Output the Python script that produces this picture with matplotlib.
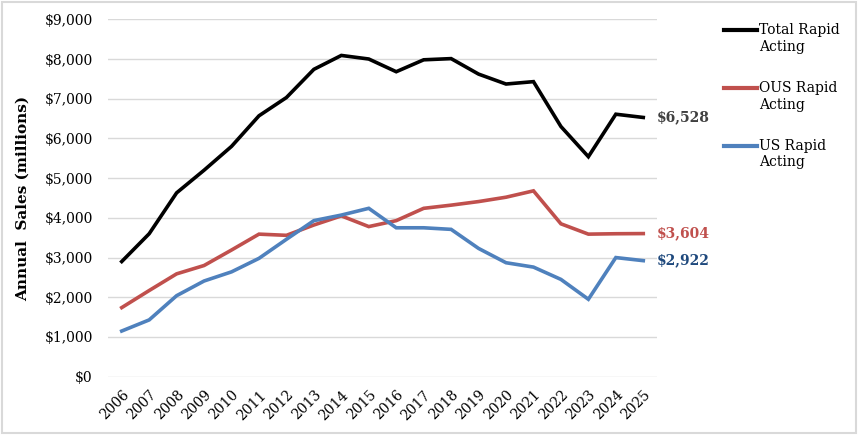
import matplotlib
matplotlib.use("Agg")
import matplotlib.pyplot as plt
import matplotlib.ticker as mticker
from matplotlib.patches import Rectangle
import numpy as np

years = list(range(2006, 2026))
total = [2900, 3600, 4630, 5200, 5800, 6570, 7030, 7740, 8090, 8000,
         7680, 7980, 8010, 7620, 7370, 7430, 6300, 5540, 6610, 6528]
ous = [1740, 2170, 2590, 2800, 3190, 3590, 3560, 3820, 4050, 3780,
       3930, 4240, 4320, 4410, 4520, 4680, 3850, 3590, 3600, 3604]
us = [1150, 1430, 2040, 2410, 2640, 2980, 3460, 3930, 4070, 4240,
      3750, 3750, 3710, 3230, 2870, 2760, 2450, 1950, 3000, 2922]
series_names = ["Total Rapid\nActing", "OUS Rapid\nActing", "US Rapid\nActing"]
end_labels = ["$6,528", "$3,604", "$2,922"]
y_ticks = [0, 1000, 2000, 3000, 4000, 5000, 6000, 7000, 8000, 9000]

colors = ["#000000", "#C0504D", "#4F81BD"]
label_colors = ["#404040", "#C0504D", "#1F497D"]

plt.rcParams["font.family"] = ["DejaVu Serif"]

fig = plt.figure(figsize=(8.6, 4.4), dpi=100)
ax = fig.add_axes([108/860, 1 - 376.7/440, (657-108)/860, (376.7-19.3)/440])

x = np.arange(len(years))
lines = []
for vals, c, name in zip([total, ous, us], colors, series_names):
    ln, = ax.plot(x, vals, color=c, lw=2.6, label=name, solid_joinstyle="miter")
    lines.append(ln)

for vals, lab, c in zip([total, ous, us], end_labels, label_colors):
    ax.annotate(lab, xy=(x[-1], vals[-1]), xytext=(10, 0), textcoords="offset points",
                ha="left", va="center", fontsize=10, fontweight="bold", color=c,
                annotation_clip=False)

ax.set_xlim(-0.5, len(years) - 0.5)
ax.set_ylim(0, 9000)
ax.set_yticks(y_ticks)
ax.yaxis.set_major_formatter(mticker.FuncFormatter(lambda v, p: f"${v:,.0f}"))
ax.set_xticks(x)
ax.set_xticklabels([str(y) for y in years], rotation=45, ha="right", va="top",
                   rotation_mode="anchor")
ax.tick_params(axis="both", length=0, labelsize=10)
ax.tick_params(axis="y", pad=11)
ax.tick_params(axis="x", pad=8)
ax.grid(axis="y", color="#D9D9D9", lw=1)
ax.set_axisbelow(True)
for s in ax.spines.values():
    s.set_visible(False)

ax.set_ylabel("Annual  Sales (millions)", fontsize=11, fontweight="bold")
ax.yaxis.set_label_coords(-0.142, 0.50)

leg = ax.legend(handles=lines, loc="upper left", bbox_to_anchor=(724/860, 1 - 23/440),
                bbox_transform=fig.transFigure, frameon=False, fontsize=10,
                handlelength=2.4, handletextpad=0.15, labelspacing=1.95,
                borderpad=0, borderaxespad=0)
for t in leg.get_texts():
    t.set_linespacing(1.25)
for h in leg.legend_handles:
    h.set_linewidth(3)
    yd = np.array(h.get_ydata(), dtype=float)
    h.set_ydata(yd + 6.5)

fig.patches.append(Rectangle((2/860, 1 - 433/440), 854/860, 431/440,
                             transform=fig.transFigure, fill=False,
                             ec="#D9D9D9", lw=1.5))

fig.savefig("out.png", dpi=100)
